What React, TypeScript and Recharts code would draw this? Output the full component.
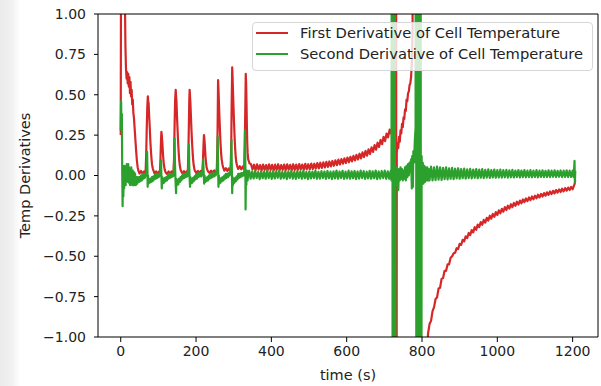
import React from 'react';
import { LineChart, Line, XAxis, YAxis, Legend } from 'recharts';

const X_TICKS = [0, 200, 400, 600, 800, 1000, 1200];
const Y_TICKS = [-1, -0.75, -0.5, -0.25, 0, 0.25, 0.5, 0.75, 1];
const SERIES_NAMES = ['First Derivative of Cell Temperature', 'Second Derivative of Cell Temperature'];
const COLORS = ['#d62728', '#2ca02c'];
const X_DOMAIN = [-60.35, 1267.35];
const Y_DOMAIN = [-1, 1];

// First derivative of cell temperature: [time (s), value]
const FIRST_DERIVATIVE: [number, number][] = [
  [0, 0.25], [1, 1.6], [5, 2.0], [9, 1.8], [11, 1.1], [12.5, 0.8], [14, 0.66], [15.5, 0.6], [17, 0.64], [18.5, 0.57], [20, 0.63], [21.5, 0.55], [23, 0.61], [24.5, 0.51], [26, 0.58], [27.5, 0.49], [29, 0.53], [30.5, 0.44], [32, 0.47], [33.5, 0.39], [35, 0.36], [37, 0.29], [39, 0.22], [41, 0.15], [43, 0.09], [45, 0.05], [47, 0.03], [50, 0.012], [54, 0.028], [58, 0.012], [62, 0.025], [65, 0.012],
  [66, 0.02], [67.5, 0.12], [69, 0.28], [70.5, 0.42], [72, 0.49], [73, 0.46], [74, 0.45], [75.5, 0.37], [77, 0.3], [78.5, 0.22], [80, 0.16], [81.5, 0.11], [83, 0.07], [85, 0.045], [87, 0.03], [90, 0.012], [94, 0.025], [98, 0.012], [102, 0.025],
  [104, 0.015], [105.5, 0.1], [107, 0.22], [108, 0.27], [109, 0.25], [110.5, 0.2], [112, 0.14], [113.5, 0.09], [115, 0.06], [117, 0.035], [119, 0.02], [123, 0.01], [127, 0.025], [131, 0.012], [135, 0.026], [139, 0.014],
  [140, 0.02], [141.5, 0.1], [143, 0.3], [144.5, 0.47], [146, 0.53], [147, 0.49], [148, 0.46], [149.5, 0.36], [151, 0.28], [152.5, 0.2], [154, 0.14], [155.5, 0.09], [157, 0.06], [159, 0.035], [161, 0.025], [164, 0.012], [168, 0.027], [172, 0.013], [176, 0.027],
  [178, 0.02], [179.5, 0.12], [181, 0.32], [182, 0.46], [183, 0.53], [184, 0.49], [185, 0.45], [186.5, 0.36], [188, 0.27], [189.5, 0.2], [191, 0.14], [192.5, 0.09], [194, 0.06], [196, 0.035], [198, 0.025], [201, 0.014], [205, 0.028], [209, 0.015], [213, 0.029], [216, 0.018],
  [217, 0.03], [218.5, 0.1], [220, 0.2], [221, 0.25], [222, 0.23], [223.5, 0.18], [225, 0.12], [226.5, 0.08], [228, 0.05], [230, 0.035], [232, 0.025], [236, 0.016], [240, 0.03], [244, 0.017], [248, 0.031], [252, 0.018], [254, 0.028],
  [255, 0.03], [256.5, 0.15], [257.5, 0.35], [258.5, 0.59], [259.5, 0.54], [260.5, 0.47], [262, 0.37], [263.5, 0.28], [265, 0.2], [266.5, 0.14], [268, 0.1], [270, 0.07], [272, 0.05], [275, 0.03], [279, 0.045], [283, 0.028], [287, 0.044], [290, 0.03],
  [292, 0.04], [293.5, 0.2], [294.5, 0.42], [296, 0.67], [297, 0.61], [298, 0.53], [299.5, 0.42], [301, 0.32], [302.5, 0.23], [304, 0.16], [305.5, 0.11], [307, 0.08], [309, 0.06], [312, 0.04], [316, 0.058], [320, 0.038], [324, 0.056], [327, 0.04],
  [328, 0.05], [329.5, 0.2], [331, 0.45], [332, 0.63], [333, 0.57], [334, 0.45], [335, 0.3], [336, 0.2], [337, 0.14], [338.5, 0.1], [340, 0.09], [342, 0.075],
  [346, 0.07], [350, 0.037], [354, 0.067], [358, 0.033], [362, 0.069], [366, 0.036], [370, 0.064], [374, 0.031], [378, 0.068], [382, 0.034], [386, 0.065], [390, 0.032], [394, 0.069], [398, 0.035], [402, 0.066], [406, 0.031], [410, 0.067], [414, 0.034], [418, 0.07], [422, 0.033], [426, 0.065], [430, 0.035], [434, 0.068], [438, 0.032], [442, 0.069], [446, 0.036], [450, 0.066], [454, 0.033], [458, 0.07], [462, 0.035], [466, 0.067], [470, 0.034], [474, 0.071], [478, 0.037], [482, 0.068], [486, 0.036], [490, 0.072], [494, 0.038], [498, 0.07], [502, 0.039], [506, 0.074], [510, 0.04], [514, 0.073], [518, 0.043], [522, 0.077], [526, 0.044], [530, 0.079], [534, 0.047], [538, 0.081], [542, 0.05], [546, 0.084], [550, 0.053], [554, 0.087], [558, 0.056], [562, 0.09], [566, 0.06], [570, 0.094], [574, 0.064], [578, 0.098], [582, 0.068], [586, 0.102], [590, 0.073], [594, 0.106], [598, 0.077], [602, 0.111], [606, 0.082], [610, 0.116], [614, 0.087], [618, 0.122], [622, 0.093], [626, 0.128], [630, 0.099], [634, 0.135], [638, 0.106], [642, 0.143], [646, 0.114], [650, 0.152], [654, 0.123], [658, 0.162], [662, 0.133], [666, 0.174], [670, 0.146], [674, 0.188], [678, 0.16], [682, 0.203], [686, 0.176], [690, 0.22], [694, 0.194], [698, 0.24], [702, 0.213], [706, 0.26], [710, 0.236], [714, 0.284], [718, 0.26], [722, 0.31], [724, 0.29], [726, 0.34], [728, 0.33], [729.5, 0.4],
  [731, 5], [732, -5], [733, 0.14], [735, 0.2], [737, 0.17], [739, 0.24], [741, 0.21], [743, 0.28], [745, 0.26], [747, 0.32], [749, 0.3], [751, 0.36], [753, 0.35], [755, 0.41], [757, 0.4], [759, 0.47], [761, 0.46], [763, 0.51], [765, 0.52], [767, 0.56], [769, 0.57], [771, 0.61], [773, 0.7], [775, 0.9], [776, 5], [788, 5], [789, -5], [806, -5], [812, -1.2],
  [816, -0.98], [820, -0.92], [824, -0.9], [828, -0.84], [832, -0.815], [836, -0.765], [840, -0.755], [844, -0.7], [848, -0.695], [852, -0.64], [856, -0.635], [860, -0.59], [864, -0.59], [868, -0.55], [872, -0.55], [876, -0.51], [880, -0.5], [884, -0.482], [888, -0.478], [892, -0.45], [896, -0.455], [900, -0.423], [904, -0.43], [908, -0.398], [912, -0.408], [916, -0.377], [920, -0.388], [924, -0.356], [928, -0.369], [932, -0.338], [936, -0.352], [940, -0.32], [944, -0.336], [948, -0.304], [952, -0.32], [956, -0.289], [960, -0.305], [964, -0.275], [968, -0.292], [972, -0.262], [976, -0.279], [980, -0.249], [984, -0.267], [988, -0.238], [992, -0.256], [996, -0.227], [1000, -0.245], [1004, -0.216], [1008, -0.234], [1012, -0.206], [1016, -0.224], [1020, -0.196], [1024, -0.214], [1028, -0.187], [1032, -0.205], [1036, -0.178], [1040, -0.196], [1044, -0.17], [1048, -0.188], [1052, -0.162], [1056, -0.18], [1060, -0.155], [1064, -0.172], [1068, -0.148], [1072, -0.165], [1076, -0.142], [1080, -0.159], [1084, -0.136], [1088, -0.153], [1092, -0.13], [1096, -0.147], [1100, -0.125], [1104, -0.141], [1108, -0.119], [1112, -0.136], [1116, -0.114], [1120, -0.13], [1124, -0.109], [1128, -0.125], [1132, -0.104], [1136, -0.12], [1140, -0.099], [1144, -0.115], [1148, -0.095], [1152, -0.111], [1156, -0.09], [1160, -0.106], [1164, -0.086], [1168, -0.102], [1172, -0.082], [1176, -0.098], [1180, -0.078], [1184, -0.094], [1188, -0.075], [1192, -0.09], [1196, -0.071], [1200, -0.085], [1203, -0.066], [1205, -0.055], [1207, -0.03],
];

// Second derivative of cell temperature: [time (s), value]
const SECOND_DERIVATIVE: [number, number][] = [
  [0, 0.28], [1, 0.46], [2, 0.3], [3, 0.38], [4, 0.02], [5, -0.19], [6, 0.06], [7, -0.13], [8, 0.04], [9, -0.08], [10, 0.06], [11, -0.05], [12, 0.03], [13, -0.06], [14, 0.05], [15, -0.03], [16, 0.07], [17, -0.02], [18, 0.06], [19, -0.04], [20, 0.07], [21, -0.03], [22, 0.05], [23, -0.05], [24, 0.04], [25, -0.06], [26, 0.03], [27, -0.04], [28, 0.05], [29, -0.03], [30, 0.02], [31, -0.06], [32, 0.03], [33, -0.05], [34, 0.0], [35, -0.06], [36, 0.02], [37, -0.05], [38, 0.01], [40, -0.06], [42, -0.01], [44, -0.05], [46, -0.01], [48, -0.04], [50, -0.01], [52, -0.035], [54, 0.0], [56, -0.03], [58, 0.01], [60, -0.02], [62, 0.01], [64, -0.015], [66, 0.01],
  [68, 0.0], [69, 0.06], [70, 0.146], [71, 0.02], [71.5, -0.07], [72.5, 0.0], [73.5, -0.05], [75, -0.02], [77, -0.045], [79, -0.02], [81, -0.04], [83, -0.01], [85, -0.035], [87, -0.005], [89, -0.025], [91, 0.005], [93, -0.02], [95, 0.01], [97, -0.015], [99, 0.01], [101, -0.01], [103, 0.01], [105, 0.0],
  [106, 0.05], [107, 0.094], [108, 0.0], [109, -0.08], [110, -0.01], [111, -0.05], [113, -0.02], [115, -0.045], [117, -0.015], [119, -0.035], [121, -0.01], [123, -0.03], [125, 0.0], [127, -0.02], [129, 0.01], [131, -0.015], [133, 0.01], [135, -0.01], [137, 0.01], [139, -0.005], [141, 0.02],
  [142, 0.1], [143, 0.23], [144, 0.08], [145, 0.0], [146, -0.06], [147, -0.11], [148, -0.02], [149, -0.06], [151, -0.03], [153, -0.055], [155, -0.02], [157, -0.04], [159, -0.01], [161, -0.03], [163, 0.0], [165, -0.02], [167, 0.01], [169, -0.015], [171, 0.01], [173, -0.01], [175, 0.015], [177, -0.005], [179, 0.02],
  [180, 0.1], [181, 0.19], [182, 0.05], [183, -0.02], [184, -0.07], [185, -0.01], [186, -0.05], [188, -0.02], [190, -0.045], [192, -0.015], [194, -0.035], [196, -0.005], [198, -0.025], [200, 0.005], [202, -0.02], [204, 0.01], [206, -0.01], [208, 0.015], [210, -0.005], [212, 0.015], [214, -0.005], [216, 0.02], [218, 0.03],
  [219, 0.1], [220, 0.03], [221.5, -0.05], [222.5, 0.0], [224, -0.04], [226, -0.015], [228, -0.035], [230, -0.01], [232, -0.03], [234, 0.0], [236, -0.02], [238, 0.01], [240, -0.015], [242, 0.01], [244, -0.01], [246, 0.015], [248, -0.005], [250, 0.015], [252, 0.0], [254, 0.02], [256, 0.05],
  [257.5, 0.24], [258.5, 0.06], [259.5, -0.07], [260.5, 0.0], [261.5, -0.05], [263, -0.02], [265, -0.045], [267, -0.015], [269, -0.035], [271, -0.01], [273, -0.03], [275, 0.0], [277, -0.02], [279, 0.01], [281, -0.015], [283, 0.01], [285, -0.01], [287, 0.015], [289, 0.0], [291, 0.02], [293, 0.08],
  [294, 0.22], [295, 0.05], [296, -0.11], [297, -0.01], [298, -0.06], [300, -0.02], [302, -0.045], [304, -0.015], [306, -0.035], [308, -0.005], [310, -0.025], [312, 0.01], [314, -0.015], [316, 0.01], [318, -0.01], [320, 0.015], [322, -0.005], [324, 0.015], [326, 0.0], [328, 0.03], [329, 0.1],
  [330, 0.28], [331, 0.05], [331.5, -0.21], [332.5, 0.0], [333.5, -0.06], [335, 0.03], [337, -0.03], [339, 0.02],
  [341, 0.03], [345, -0.02], [349, 0.025], [353, -0.018], [357, 0.028], [361, -0.015], [365, 0.022], [369, -0.022], [373, 0.026], [377, -0.017], [381, 0.024], [385, -0.02], [389, 0.03], [393, -0.016], [397, 0.023], [401, -0.021], [405, 0.027], [409, -0.018], [413, 0.025], [417, -0.014], [421, 0.029], [425, -0.02], [429, 0.022], [433, -0.017], [437, 0.026], [441, -0.022], [445, 0.024], [449, -0.016], [453, 0.028], [457, -0.019], [461, 0.023], [465, -0.021], [469, 0.027], [473, -0.015], [477, 0.025], [481, -0.02], [485, 0.029], [489, -0.017], [493, 0.022], [497, -0.022], [501, 0.026], [505, -0.018], [509, 0.024], [513, -0.016], [517, 0.03], [521, -0.02], [525, 0.023], [529, -0.019], [533, 0.027], [537, -0.015], [541, 0.025], [545, -0.021], [549, 0.028], [553, -0.017], [557, 0.024], [561, -0.022], [565, 0.026], [569, -0.018], [573, 0.031], [577, -0.02], [581, 0.025], [585, -0.016], [589, 0.029], [593, -0.021], [597, 0.024], [601, -0.018], [605, 0.03], [609, -0.02], [613, 0.026], [617, -0.017], [621, 0.028], [625, -0.022], [629, 0.025], [633, -0.019], [637, 0.03], [641, -0.016], [645, 0.027], [649, -0.021], [653, 0.024], [657, -0.018], [661, 0.029], [665, -0.02], [669, 0.026], [673, -0.017], [677, 0.031], [681, -0.022], [685, 0.025], [689, -0.019], [693, 0.028], [697, -0.016], [701, 0.03], [705, -0.021], [709, 0.026], [713, -0.02], [717, 0.029], [719, -0.03],
  [721, 5], [722.5, -5], [724, 5], [725.5, -5], [727, 5], [728.5, -5], [729.5, -0.09], [733, 0.05], [735, -0.03], [737, -0.09], [739, 0.04], [741, -0.03], [743, 0.05], [745, -0.02], [747, 0.04], [749, -0.03], [751, 0.03], [753, -0.02], [755, 0.05], [757, -0.03], [759, 0.06], [761, -0.01], [763, 0.07], [765, 0.0], [767, 0.08], [769, 0.02], [771, 0.1], [773, -0.08], [774, 0.12], [776, -0.07], [777, 0.15], [779, 0.08], [781, 0.22], [783, 0.3],
  [784, 5], [785.5, -5], [787, 5], [788.5, -5], [790, 5], [791.5, -5], [793, 5], [794.5, -5], [796, 5], [797.5, -5], [799, 0.12], [800, -0.04], [802, 0.08], [804, -0.05], [806, 0.06], [808, -0.04], [810, 0.05], [812, -0.03], [814, 0.05], [816, -0.03], [818, 0.04],
  [820, -0.03], [824, 0.055], [828, -0.03], [832, 0.05], [836, -0.028], [840, 0.055], [844, -0.025], [848, 0.05], [852, -0.027], [856, 0.048], [860, -0.022], [864, 0.05], [868, -0.024], [872, 0.045], [876, -0.02], [880, 0.047], [884, -0.022], [888, 0.042], [892, -0.018], [896, 0.045], [900, -0.02], [904, 0.04], [908, -0.017], [912, 0.043], [916, -0.019], [920, 0.038], [924, -0.016], [928, 0.041], [932, -0.018], [936, 0.037], [940, -0.015], [944, 0.04], [948, -0.017], [952, 0.036], [956, -0.014], [960, 0.039], [964, -0.016], [968, 0.035], [972, -0.013], [976, 0.038], [980, -0.015], [984, 0.034], [988, -0.012], [992, 0.037], [996, -0.014], [1000, 0.033], [1004, -0.012], [1008, 0.036], [1012, -0.013], [1016, 0.033], [1020, -0.011], [1024, 0.035], [1028, -0.013], [1032, 0.032], [1036, -0.011], [1040, 0.035], [1044, -0.012], [1048, 0.031], [1052, -0.01], [1056, 0.034], [1060, -0.012], [1064, 0.031], [1068, -0.01], [1072, 0.034], [1076, -0.011], [1080, 0.03], [1084, -0.01], [1088, 0.033], [1092, -0.011], [1096, 0.03], [1100, -0.009], [1104, 0.033], [1108, -0.011], [1112, 0.03], [1116, -0.009], [1120, 0.032], [1124, -0.01], [1128, 0.029], [1132, -0.009], [1136, 0.032], [1140, -0.01], [1144, 0.03], [1148, -0.008], [1152, 0.032], [1156, -0.01], [1160, 0.029], [1164, -0.008], [1168, 0.031], [1172, -0.01], [1176, 0.03], [1180, -0.009], [1184, 0.032], [1188, -0.01], [1192, 0.03], [1196, -0.009], [1200, 0.031], [1203, -0.01], [1205, 0.09], [1206, -0.04], [1207, 0.03],
];

const toRows = (pts: [number, number][]) => pts.map(([t, v]) => ({ t, v }));
const firstRows = toRows(FIRST_DERIVATIVE);
const secondRows = toRows(SECOND_DERIVATIVE);

const FONT = 'DejaVu Sans';
const fmtY = (v: number) => (v < 0 ? '\u2212' + Math.abs(v).toFixed(2) : v.toFixed(2));

const LegendBox = () => (
  <div
    style={{
      boxSizing: 'border-box',
      width: 341,
      height: 49,
      border: '1px solid #d6d6d6',
      borderRadius: 4,
      background: 'rgba(255,255,255,0.8)',
      fontFamily: FONT,
      fontSize: 14.7,
      color: '#222',
      position: 'relative',
    }}
  >
    {SERIES_NAMES.map((name, i) => (
      <div
        key={name}
        style={{
          position: 'absolute',
          left: 3,
          top: i === 0 ? -0.5 : 20.5,
          height: 20,
          display: 'flex',
          alignItems: 'center',
          whiteSpace: 'nowrap',
        }}
      >
        <span style={{ display: 'inline-block', width: 32, height: 2, background: COLORS[i], marginRight: 12 }} />
        <span>{name}</span>
      </div>
    ))}
  </div>
);

export default function App() {
  return (
    <div
      style={{
        position: 'absolute',
        left: 0,
        top: 0,
        width: 601,
        height: 386,
        background: 'linear-gradient(to right, #ebebeb 0px, #f1f1f1 12px, #ffffff 20px)',
      }}
    >
      <LineChart width={601} height={386} margin={{ top: 13, right: 2, bottom: 4, left: 0 }}>
        <XAxis
          xAxisId="bottom"
          dataKey="t"
          type="number"
          domain={X_DOMAIN}
          ticks={X_TICKS}
          interval={0}
          allowDataOverflow
          height={45}
          tickSize={5}
          tickMargin={4}
          stroke="#000"
          tick={{ fill: '#222', fontSize: 14, fontFamily: FONT }}
          label={() => (
            <text x={348} y={375} textAnchor="middle" dominantBaseline="central" fill="#222" fontSize={14.5} fontFamily={FONT}>
              time (s)
            </text>
          )}
        />
        <XAxis xAxisId="top" orientation="top" dataKey="t" type="number" domain={X_DOMAIN} allowDataOverflow height={1} tick={false} tickLine={false} stroke="#000" />
        <YAxis
          yAxisId="left"
          type="number"
          domain={Y_DOMAIN}
          ticks={Y_TICKS}
          interval={0}
          allowDataOverflow
          width={98}
          tickSize={4}
          tickMargin={8}
          stroke="#000"
          tickFormatter={fmtY}
          tick={{ fill: '#222', fontSize: 14, fontFamily: FONT }}
          label={() => (
            <text x={25} y={175.5} transform="rotate(-90, 25, 175.5)" textAnchor="middle" dominantBaseline="central" fill="#222" fontSize={14.5} fontFamily={FONT}>
              Temp Derivatives
            </text>
          )}
        />
        <YAxis yAxisId="right" orientation="right" type="number" domain={Y_DOMAIN} allowDataOverflow width={1} tick={false} tickLine={false} stroke="#000" />
        <Line
          xAxisId="bottom"
          yAxisId="left"
          data={firstRows}
          dataKey="v"
          name={SERIES_NAMES[0]}
          stroke={COLORS[0]}
          strokeWidth={2.2}
          strokeLinejoin="round"
          dot={false}
          type="linear"
          isAnimationActive={false}
        />
        <Line
          xAxisId="bottom"
          yAxisId="left"
          data={secondRows}
          dataKey="v"
          name={SERIES_NAMES[1]}
          stroke={COLORS[1]}
          strokeWidth={2.2}
          strokeLinejoin="round"
          dot={false}
          type="linear"
          isAnimationActive={false}
        />
        <Legend
          layout="vertical"
          align="center"
          verticalAlign="middle"
          content={() => <LegendBox />}
          wrapperStyle={{ left: 252, top: 22, width: 341, height: 49 }}
        />
      </LineChart>
    </div>
  );
}
